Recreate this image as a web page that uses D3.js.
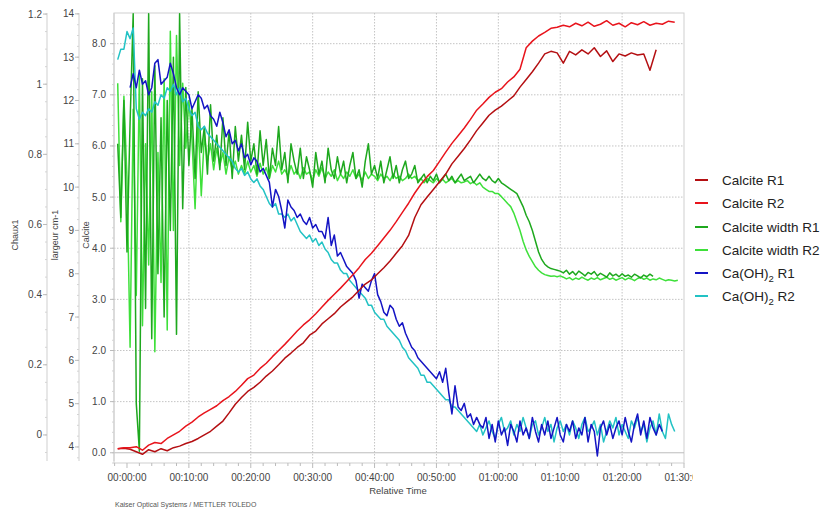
<!DOCTYPE html>
<html>
<head>
<meta charset="utf-8">
<script src="https://cdn.jsdelivr.net/npm/d3@7"></script>
<style>
	body { margin: 0; background: #fff; }
	svg { display: block; font-family: "Liberation Sans", Arial, sans-serif; }
	.lbl { fill: #444; font-size: 10px; }
</style>
</head>
<body>
<svg id="chart" width="826" height="511"></svg>
<script>
// time axis in minutes
var xTicks = [0, 10, 20, 30, 40, 50, 60, 70, 80, 90];
var xTickLabels = ['00:00:00', '00:10:00', '00:20:00', '00:30:00', '00:40:00', '00:50:00', '01:00:00', '01:10:00', '01:20:00', '01:30:00'];
var calciteTicks = [0, 1, 2, 3, 4, 5, 6, 7, 8];
var largeurTicks = [4, 5, 6, 7, 8, 9, 10, 11, 12, 13, 14];
var chauxTicks = [0, 0.2, 0.4, 0.6, 0.8, 1, 1.2];

var seriesNames = ['Calcite R1', 'Calcite R2', 'Calcite width R1', 'Calcite width R2', 'Ca(OH)2 R1', 'Ca(OH)2 R2'];
var seriesColors = ['#b40f12', '#e8141c', '#1ea81e', '#3ee03a', '#1414c4', '#22c2c4'];

// Calcite (left inner axis), start -1.5 min, 1 min step
var calciteR1 = [0.08, 0.09, 0.07, 0.02, -0.03, 0.06, 0.02, 0.08, 0.04, 0.10, 0.13, 0.18, 0.22, 0.28, 0.35, 0.42, 0.52, 0.62, 0.78, 0.95,
	1.08, 1.2, 1.28, 1.38, 1.5, 1.6, 1.72, 1.85, 1.95, 2.06, 2.15, 2.3, 2.38, 2.52, 2.62, 2.72, 2.85, 2.95, 3.05, 3.18,
	3.3, 3.38, 3.5, 3.62, 3.75, 3.9, 4.05, 4.25, 4.6, 4.85, 5.0, 5.15, 5.3, 5.45, 5.65, 5.8, 5.95, 6.12, 6.3, 6.45,
	6.6, 6.7, 6.78, 6.88, 6.98, 7.15, 7.3, 7.45, 7.62, 7.8, 7.85, 7.82, 7.62, 7.85, 7.78, 7.88, 7.8, 7.92, 7.75, 7.86,
	7.65, 7.8, 7.76, 7.82, 7.78, 7.8, 7.48, 7.88];
var calciteR2 = [0.08, 0.1, 0.1, 0.12, 0.05, 0.15, 0.2, 0.18, 0.28, 0.35, 0.42, 0.52, 0.6, 0.7, 0.78, 0.85, 0.92, 1.02, 1.1, 1.2,
	1.32, 1.45, 1.52, 1.65, 1.75, 1.88, 2.0, 2.12, 2.25, 2.38, 2.5, 2.6, 2.72, 2.85, 2.98, 3.1, 3.22, 3.35, 3.48, 3.62,
	3.78, 3.9, 4.05, 4.2, 4.35, 4.52, 4.7, 4.88, 5.08, 5.25, 5.4, 5.52, 5.7, 5.88, 6.05, 6.2, 6.35, 6.52, 6.7, 6.82,
	6.95, 7.05, 7.12, 7.25, 7.35, 7.5, 7.92, 8.05, 8.15, 8.22, 8.3, 8.32, 8.36, 8.33, 8.4, 8.35, 8.42, 8.34, 8.38, 8.45,
	8.36, 8.4, 8.33, 8.41, 8.37, 8.43, 8.36, 8.4, 8.38, 8.44, 8.42];

// Calcite width (largeur cm-1 axis), start -1.5 min, 0.5 min step
var widthR1 = [11.0, 9.3, 12.0, 8.5, 11.5, 14.0, 5.0, 3.9, 12.5, 7.2, 14.0, 6.5, 12.8, 8.0, 11.6, 7.0, 12.0, 9.0, 13.0, 6.6,
	14.0, 9.5, 12.3, 10.5, 11.8, 10.2, 12.2, 10.8, 11.4, 10.3, 11.9, 10.6, 11.2, 10.4, 11.6, 10.5, 11.3, 10.2, 11.4, 10.6,
	11.2, 10.4, 11.5, 10.6, 11.0, 10.3, 11.3, 10.5, 11.1, 10.2, 10.9, 10.5, 11.4, 10.4, 10.8, 10.1, 11.0, 10.6, 10.3, 10.9,
	10.2, 10.7, 10.4, 10.0,
	10.8, 10.3, 10.6, 10.1, 10.9, 10.4, 10.2, 10.7, 10.3, 10.6, 10.1, 10.5, 10.8, 10.2, 10.4, 10.0, 10.6, 11.0, 10.3, 10.5,
	10.2, 10.6, 10.1, 10.4, 10.7, 10.2, 10.5, 10.1, 10.4, 10.6, 10.2, 10.3, 10.5, 10.1,
	10.2, 10.3, 10.1, 10.25, 10.15, 10.3, 10.1, 10.2, 10.3, 10.15, 10.25, 10.1, 10.2, 10.3, 10.15, 10.2, 10.25, 10.1, 10.2, 10.3,
	10.2, 10.15, 10.25, 10.15, 10.1, 10.2,
	10.1, 10.05, 10.0, 9.95, 9.9, 9.85, 9.7, 9.55, 9.35, 9.2, 9.0, 8.75, 8.5, 8.33, 8.22, 8.16, 8.12, 8.1, 8.08,
	8.06, 8.02, 8.08, 7.99, 8.05, 7.97, 8.06, 8.01, 7.95, 8.03, 7.99, 8.05, 7.95, 8.01, 7.97, 7.92, 8.02, 7.95, 7.99, 7.93,
	8.0, 7.94, 7.97, 7.92, 7.99, 7.95, 7.9, 7.97, 7.93, 7.99, 7.94];
var widthR2 = [12.4, 9.2, 12.1, 10.2, 6.3, 11.8, 7.5, 12.6, 6.8, 11.0, 8.2, 12.2, 6.2, 10.8, 7.8, 12.5, 6.7, 13.6, 9.0, 13.5,
	10.5, 12.4, 10.9, 12.0, 11.1, 9.5, 11.5, 9.8, 11.2, 10.6, 11.0, 10.4, 10.9, 10.5, 10.8, 10.3, 10.7, 10.4, 10.6, 10.3,
	10.5, 10.3, 10.6, 10.35, 10.5, 10.25, 10.55, 10.3, 10.45, 10.2, 10.5, 10.35, 10.6, 10.3, 10.4, 10.25, 10.5, 10.3, 10.4, 10.2,
	10.45, 10.3, 10.35, 10.15, 10.4, 10.25, 10.45, 10.2, 10.35, 10.25, 10.4, 10.15, 10.3, 10.2, 10.35, 10.25, 10.4, 10.2, 10.3, 10.15,
	10.35, 10.2, 10.3, 10.25, 10.15, 10.3, 10.2, 10.25, 10.15, 10.3, 10.2, 10.25, 10.15, 10.2, 10.3, 10.2, 10.25,
	10.15, 10.2, 10.1, 10.2, 10.15, 10.1, 10.2, 10.12, 10.18, 10.1, 10.15, 10.2, 10.1, 10.15, 10.1, 10.12, 10.15, 10.08, 10.12, 10.05,
	10.1, 10.0, 9.95, 9.9, 9.9, 9.85,
	9.85, 9.78, 9.7, 9.62, 9.55, 9.4, 9.2, 9.0, 8.75, 8.55, 8.4, 8.28, 8.16, 8.08, 8.02, 7.98, 7.96, 7.94, 7.95, 7.93, 7.95,
	7.92, 7.88, 7.91, 7.86, 7.9, 7.87, 7.92, 7.88, 7.85, 7.9, 7.87, 7.91, 7.86, 7.89, 7.92, 7.87, 7.9, 7.85, 7.88, 7.91,
	7.86, 7.9, 7.88, 7.84, 7.89, 7.92, 7.87, 7.9, 7.85, 7.88, 7.86, 7.9, 7.87, 7.84, 7.86, 7.85, 7.83, 7.85];

// Ca(OH)2 (Chaux1 axis), 0.5 min step
var chauxR1 = [0.99, 1.03, 0.99, 1.04, 1.00, 1.01, 0.97, 0.99, 1.06, 1.07, 1.00, 1.01, 1.02, 1.06, 1.03, 0.99, 0.97, 0.99, 0.98, 0.97,
	0.93, 0.95, 0.97, 0.96, 0.93, 0.94, 0.91, 0.90, 0.88, 0.92, 0.89, 0.85, 0.87, 0.83, 0.84, 0.81, 0.83, 0.79, 0.80, 0.77,
	0.79, 0.78, 0.75, 0.76, 0.74, 0.72, 0.65, 0.70, 0.68, 0.64, 0.59, 0.67, 0.65, 0.64, 0.62, 0.63, 0.61, 0.60, 0.62, 0.59,
	0.60, 0.58, 0.58, 0.56, 0.62, 0.54, 0.57, 0.51, 0.52, 0.50, 0.48, 0.47, 0.46, 0.44, 0.39, 0.43, 0.42, 0.41, 0.44, 0.46,
	0.40, 0.38, 0.35, 0.34, 0.37, 0.36, 0.33, 0.31, 0.32, 0.29, 0.27, 0.25, 0.24, 0.22, 0.21, 0.20, 0.19, 0.18, 0.17, 0.16,
	0.18, 0.15, 0.19, 0.12, 0.06, 0.14, 0.08, 0.07, 0.09, 0.05, 0.06, 0.03, 0.05, 0.03, 0.02, 0.05, -0.01,
	0.03, -0.02, 0.04, 0.00, 0.02, -0.03, 0.03, 0.01, -0.02, 0.04, 0.00, 0.02, -0.01, 0.05, 0.01, -0.02, 0.03, 0.00, 0.04, -0.01,
	0.02, 0.05, 0.00, -0.02, 0.03, 0.01, 0.04, -0.01, 0.02, 0.00, 0.05, -0.02, 0.03, 0.01, -0.06, 0.02, 0.04, 0.00, 0.03, -0.01,
	0.02, 0.04, 0.00, 0.05, 0.01, -0.02, 0.03, 0.06, 0.00, 0.04, -0.01, 0.05, 0.02, 0.00, 0.03, 0.01];
var chauxR2 = [1.07, 1.10, 1.10, 1.15, 1.13, 1.16, 0.93, 0.90, 0.92, 0.91, 0.93, 0.92, 0.95, 0.94, 0.97, 0.96, 0.99, 0.98, 1.0, 0.97,
	0.99, 0.95, 0.96, 0.93, 0.91, 0.92, 0.88, 0.87, 0.88, 0.86, 0.85, 0.84, 0.83, 0.82, 0.81, 0.80, 0.79, 0.78, 0.76, 0.75,
	0.76, 0.74, 0.75, 0.73, 0.72, 0.73, 0.71, 0.70, 0.68, 0.66, 0.65, 0.66, 0.63, 0.63, 0.62, 0.63, 0.61, 0.62, 0.60, 0.58,
	0.57, 0.56, 0.57, 0.55, 0.56, 0.54, 0.55, 0.53, 0.52, 0.50, 0.49, 0.49, 0.47, 0.46, 0.46, 0.44, 0.43, 0.42, 0.41, 0.40,
	0.39, 0.37, 0.37, 0.35, 0.34, 0.33, 0.33, 0.31, 0.30, 0.29, 0.28, 0.27, 0.25, 0.24, 0.22, 0.21, 0.20, 0.19, 0.17, 0.17,
	0.15, 0.15, 0.14, 0.13, 0.12, 0.11, 0.10, 0.10, 0.08, 0.08, 0.07, 0.06, 0.05, 0.04, 0.03, 0.02, 0.01,
	0.03, 0.00, 0.02, 0.04, 0.01, -0.01, 0.03, 0.05, 0.01, 0.02, 0.04, 0.00, 0.03, 0.01, 0.05, 0.02, -0.01, 0.03, 0.04, 0.00,
	0.02, 0.05, 0.01, 0.03, -0.02, 0.02, 0.04, 0.01, 0.03, 0.00, 0.04, 0.02, -0.01, 0.03, 0.05, 0.01, 0.02, 0.04, 0.00, 0.03,
	-0.02, 0.01, 0.04, 0.02, 0.05, 0.00, 0.03, 0.01, -0.01, 0.04, 0.02, 0.05, 0.01, 0.03, -0.02, 0.02, 0.04, 0.00, 0.06, 0.01,
	-0.01, 0.06, 0.03, 0.01];

function toPoints(values, t0, dt) {
	return values.map(function (v, i) { return { t: t0 + i * dt, v: v }; });
}

var svg = d3.select('#chart');
var plotLeft = 114, plotRight = 684, plotTop = 13, plotBottom = 463;

var x = d3.scaleLinear().domain([-2.1, 90]).range([plotLeft, plotRight]);
var yCalcite = d3.scaleLinear().domain([-0.2, 8.6]).range([plotBottom, plotTop]);
var yLargeur = d3.scaleLinear().domain([3.63, 14.02]).range([plotBottom, plotTop]);
var yChaux = d3.scaleLinear().domain([-0.08, 1.203]).range([plotBottom, plotTop]);

var defs = svg.append('defs');
defs.append('clipPath').attr('id', 'plotClip').append('rect')
	.attr('x', plotLeft).attr('y', plotTop).attr('width', plotRight - plotLeft).attr('height', plotBottom - plotTop);
defs.append('clipPath').attr('id', 'xLabClip').append('rect')
	.attr('x', 0).attr('y', 0).attr('width', 693).attr('height', 511);

// plot frame
svg.append('rect').attr('x', plotLeft).attr('y', plotTop).attr('width', plotRight - plotLeft).attr('height', plotBottom - plotTop)
	.attr('fill', '#fff').attr('stroke', '#cfcfcf');

///grid
var grid = svg.append('g');
grid.selectAll('line.v').data(xTicks.filter(function (d) { return d > 0 && d < 90; })).enter().append('line')
	.attr('x1', function (d) { return x(d); }).attr('x2', function (d) { return x(d); })
	.attr('y1', plotTop).attr('y2', plotBottom)
	.attr('stroke', '#c4c4c4').attr('stroke-dasharray', '1.5,1.5');
grid.selectAll('line.h').data(calciteTicks).enter().append('line')
	.attr('x1', plotLeft).attr('x2', plotRight)
	.attr('y1', function (d) { return yCalcite(d); }).attr('y2', function (d) { return yCalcite(d); })
	.attr('stroke', function (d) { return d === 0 ? '#bdbdbd' : '#c4c4c4'; })
	.attr('stroke-dasharray', function (d) { return d === 0 ? null : '1.5,1.5'; });

///x axis
var xAxis = svg.append('g');
var minorX = d3.range(-2, 91, 2);
xAxis.selectAll('line.m').data(minorX).enter().append('line')
	.attr('x1', function (d) { return x(d); }).attr('x2', function (d) { return x(d); })
	.attr('y1', plotBottom).attr('y2', function (d) { return d % 10 === 0 ? plotBottom + 5 : plotBottom + 3; })
	.attr('stroke', '#bbb');
xAxis.append('g').attr('clip-path', 'url(#xLabClip)')
	.selectAll('text').data(xTicks).enter().append('text')
	.attr('class', 'lbl')
	.attr('x', function (d) { return x(d); }).attr('y', 481)
	.attr('text-anchor', 'middle')
	.text(function (d, i) { return xTickLabels[i]; });
svg.append('text').attr('class', 'lbl').attr('x', 398).attr('y', 494).attr('text-anchor', 'middle')
	.style('font-size', '9.5px').text('Relative Time');
svg.append('text').attr('x', 115).attr('y', 507).style('font-size', '7px').attr('fill', '#555')
	.text('Kaiser Optical Systems / METTLER TOLEDO');

///y axes
function drawYAxis(scale, xPos, ticks, minorStep, fmt, labelX, title, titleX) {
	var g = svg.append('g');
	g.append('line').attr('x1', xPos).attr('x2', xPos).attr('y1', plotTop).attr('y2', plotBottom - 2)
		.attr('stroke', '#cfcfcf');
	var dom = scale.domain();
	var minors = d3.range(Math.ceil(dom[0] / minorStep) * minorStep, dom[1], minorStep);
	g.selectAll('line.m').data(minors).enter().append('line')
		.attr('x1', xPos - 2).attr('x2', xPos)
		.attr('y1', function (d) { return scale(d); }).attr('y2', function (d) { return scale(d); })
		.attr('stroke', '#d4d4d4');
	g.selectAll('line.t').data(ticks).enter().append('line')
		.attr('x1', xPos - 4).attr('x2', xPos)
		.attr('y1', function (d) { return scale(d); }).attr('y2', function (d) { return scale(d); })
		.attr('stroke', '#bbb');
	g.selectAll('text').data(ticks).enter().append('text')
		.attr('class', 'lbl')
		.attr('x', labelX).attr('y', function (d) { return scale(d) + 3.5; })
		.attr('text-anchor', 'end')
		.text(fmt);
	svg.append('text').attr('transform', 'translate(' + [titleX, 235] + ') rotate(-90)')
		.attr('text-anchor', 'middle').attr('fill', '#444').style('font-size', '9px').text(title);
}
drawYAxis(yChaux, 47, chauxTicks, 0.05, function (d) { return d3.format('~g')(d); }, 42, 'Chaux1', 18);
drawYAxis(yLargeur, 79, largeurTicks, 0.25, function (d) { return d; }, 74, 'largeur cm-1', 58);
drawYAxis(yCalcite, plotLeft, calciteTicks, 0.2, d3.format('.1f'), 106, 'Calcite', 89);

///series
var series = [
	{ pts: toPoints(calciteR1, -1.5, 1), y: yCalcite },
	{ pts: toPoints(calciteR2, -1.5, 1), y: yCalcite },
	{ pts: toPoints(widthR1, -1.5, 0.5), y: yLargeur },
	{ pts: toPoints(widthR2, -1.5, 0.5), y: yLargeur },
	{ pts: toPoints(chauxR1, 0.5, 0.5), y: yChaux },
	{ pts: toPoints(chauxR2, -1.5, 0.5), y: yChaux }
];
var drawOrder = [3, 2, 5, 4, 0, 1];
var plot = svg.append('g').attr('clip-path', 'url(#plotClip)');
drawOrder.forEach(function (i) {
	var s = series[i];
	var line = d3.line().x(function (d) { return x(d.t); }).y(function (d) { return s.y(d.v); });
	plot.append('path').datum(s.pts)
		.attr('d', line)
		.attr('fill', 'none')
		.attr('stroke', seriesColors[i])
		.attr('stroke-width', 1.5)
		.attr('stroke-linejoin', 'round');
});

///legend
var legend = svg.append('g').attr('transform', 'translate(695,0)');
var legY = [180, 203, 227, 250, 273, 296];
var rows = legend.selectAll('g').data(seriesNames).enter().append('g')
	.attr('transform', function (d, i) { return 'translate(0,' + legY[i] + ')'; });
rows.append('line').attr('x1', 0).attr('x2', 13).attr('y1', 0).attr('y2', 0)
	.attr('stroke', function (d, i) { return seriesColors[i]; }).attr('stroke-width', 2);
rows.append('text').attr('x', 27).attr('y', 5).attr('fill', '#222').style('font-size', '13.5px')
	.each(function (d) {
		var t = d3.select(this);
		if (d.indexOf('Ca(OH)2') === 0) {
			t.append('tspan').text('Ca(OH)');
			t.append('tspan').attr('dy', 4).style('font-size', '9.5px').text('2');
			t.append('tspan').attr('dy', -4).text(d.replace('Ca(OH)2', ''));
		} else {
			t.text(d);
		}
	});
</script>
</body>
</html>
